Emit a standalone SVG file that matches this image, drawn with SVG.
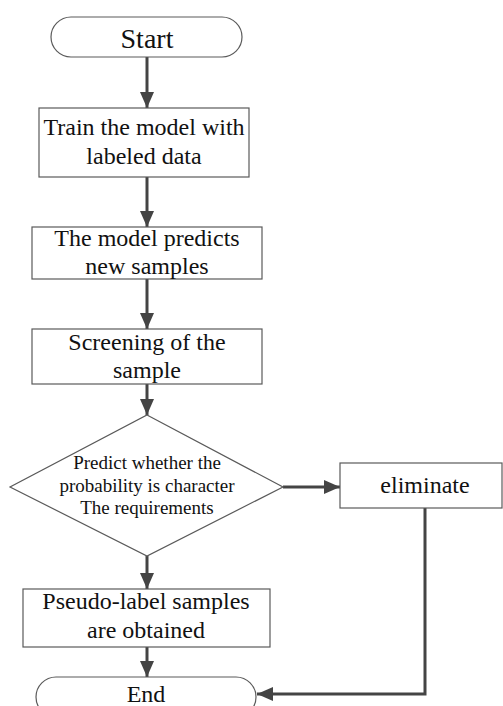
<svg xmlns="http://www.w3.org/2000/svg" width="503" height="706" viewBox="0 0 503 706">
<style>
.node{fill:#fff;stroke:#5a5a5a;stroke-width:1.2}
.lbl{fill:#111;text-anchor:middle}
.conn{fill:none;stroke:#444;stroke-width:3;marker-end:url(#arr)}
</style>
<defs>
<marker id="arr" viewBox="0 0 16 14" refX="16" refY="7" markerUnits="userSpaceOnUse" markerWidth="16" markerHeight="14" orient="auto">
<path d="M0,0 L16,7 L0,14 z" fill="#444"/>
</marker>
</defs>
<rect width="503" height="706" fill="#fff"/>
<g id="connectors">
<line class="conn" x1="147" y1="57" x2="147" y2="108"/>
<line class="conn" x1="147" y1="177" x2="147" y2="227"/>
<line class="conn" x1="147" y1="279" x2="147" y2="329"/>
<line class="conn" x1="147" y1="384" x2="147" y2="415"/>
<line class="conn" x1="283" y1="487" x2="340" y2="487"/>
<line class="conn" x1="147" y1="556" x2="147" y2="589"/>
<line class="conn" x1="147" y1="647" x2="147" y2="677"/>
<polyline class="conn" points="425,508 425,694 257,694"/>
</g>
<g id="start">
<rect class="node" x="51" y="17" width="191" height="40" rx="20" ry="20"/>
<text class="lbl" x="147" y="48" font-size="28" font-family="Liberation Serif">Start</text>
</g>
<g id="train">
<rect class="node" x="39" y="108" width="210" height="69"/>
<text class="lbl" x="144" y="135" font-size="24" font-family="Liberation Serif">Train the model with</text>
<text class="lbl" x="144" y="164" font-size="24" font-family="Liberation Serif">labeled data</text>
</g>
<g id="predict">
<rect class="node" x="32" y="227" width="230" height="52"/>
<text class="lbl" x="147" y="246" font-size="24" font-family="Liberation Serif">The model predicts</text>
<text class="lbl" x="147" y="274" font-size="24" font-family="Liberation Serif">new samples</text>
</g>
<g id="screen">
<rect class="node" x="32" y="329" width="230" height="55"/>
<text class="lbl" x="147" y="350" font-size="24" font-family="Liberation Serif">Screening of the</text>
<text class="lbl" x="147" y="378" font-size="24" font-family="Liberation Serif">sample</text>
</g>
<g id="decision">
<polygon class="node" points="147,415 283,487 147,556 10,487"/>
<text class="lbl" x="147" y="469" font-size="19" font-family="Liberation Serif">Predict whether the</text>
<text class="lbl" x="147" y="492" font-size="19" font-family="Liberation Serif">probability is character</text>
<text class="lbl" x="147" y="514" font-size="19" font-family="Liberation Serif">The requirements</text>
</g>
<g id="eliminate">
<rect class="node" x="340" y="463" width="162" height="45"/>
<text class="lbl" x="425" y="493" font-size="24" font-family="Liberation Serif">eliminate</text>
</g>
<g id="pseudo">
<rect class="node" x="23" y="589" width="247" height="58"/>
<text class="lbl" x="146" y="609" font-size="24" font-family="Liberation Serif">Pseudo-label samples</text>
<text class="lbl" x="146" y="638" font-size="24" font-family="Liberation Serif">are obtained</text>
</g>
<g id="end">
<rect class="node" x="36" y="677" width="220" height="40" rx="20" ry="20"/>
<text class="lbl" x="146" y="702" font-size="24" font-family="Liberation Serif">End</text>
</g>
</svg>
